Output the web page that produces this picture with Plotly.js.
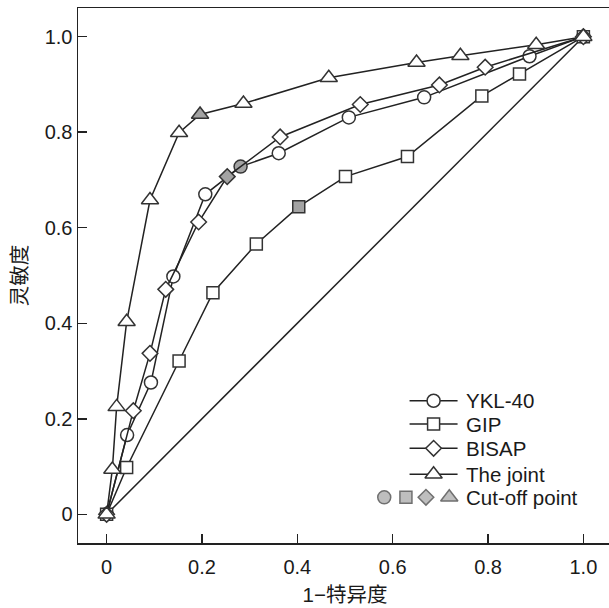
<!DOCTYPE html>
<html>
<head>
<meta charset="utf-8">
<script src="https://cdn.plot.ly/plotly-3.0.1.min.js"></script>
<style>
html, body { margin: 0; padding: 0; overflow: hidden; background: #fff; }
#chart { width: 613px; height: 608px; }
</style>
</head>
<body>
<div id="chart"></div>
<script>
// ---- data ----
var yklX = [0, 0.043, 0.093, 0.140, 0.207, 0.281, 0.361, 0.508, 0.666, 0.887, 1];
var yklY = [0, 0.166, 0.276, 0.498, 0.670, 0.728, 0.756, 0.831, 0.873, 0.959, 1];
var yklCut = 5;

var gipX = [0, 0.042, 0.152, 0.223, 0.314, 0.403, 0.501, 0.631, 0.787, 0.866, 1];
var gipY = [0, 0.098, 0.321, 0.464, 0.566, 0.644, 0.707, 0.749, 0.876, 0.922, 1];
var gipCut = 5;

var bisapX = [0, 0.056, 0.091, 0.124, 0.193, 0.253, 0.364, 0.532, 0.698, 0.794, 1];
var bisapY = [0, 0.217, 0.337, 0.471, 0.612, 0.707, 0.790, 0.858, 0.899, 0.936, 1];
var bisapCut = 5;

var jointX = [0, 0.012, 0.021, 0.042, 0.091, 0.152, 0.196, 0.287, 0.466, 0.650, 0.742, 0.901, 1];
var jointY = [0, 0.094, 0.225, 0.403, 0.658, 0.799, 0.837, 0.860, 0.914, 0.946, 0.960, 0.983, 1];
var jointCut = 6;

var refX = [0, 1];
var refY = [0, 1];

var seriesNames = ["YKL-40", "GIP", "BISAP", "The joint"];
var cutName = "Cut-off point";
var tickVals = [0, 0.2, 0.4, 0.6, 0.8, 1.0];
var tickText = ["0", "0.2", "0.4", "0.6", "0.8", "1.0"];
var xTitle = "1\u2212特异度";
var yTitle = "灵敏度";

// ---- style ----
var FONT = "Liberation Sans, Arial, Noto Sans CJK SC, sans-serif";
var INK = "#222222";
var TXT = "#1a1a1a";
var MK_LINE = "#333333";
var WHITE = "#ffffff";
var GREY = "#a3a3a3";
var symbols = ["circle", "square", "diamond", "triangle-up"];
var sizes = [13, 12, 12, 15];

function fills(n, cut) {
  var c = [];
  for (var i = 0; i < n; i++) c.push(i === cut ? GREY : WHITE);
  return c;
}

var sets = [
  [yklX, yklY, yklCut],
  [gipX, gipY, gipCut],
  [bisapX, bisapY, bisapCut],
  [jointX, jointY, jointCut]
];

var traces = [{
  x: refX, y: refY, mode: "lines", type: "scatter",
  line: {color: INK, width: 1.5}, showlegend: false, hoverinfo: "skip"
}];

sets.forEach(function (s, i) {
  traces.push({
    x: s[0], y: s[1], type: "scatter", mode: "lines+markers", name: seriesNames[i],
    line: {color: INK, width: 1.5},
    marker: {symbol: symbols[i], size: sizes[i], color: fills(s[0].length, s[2]),
             line: {color: MK_LINE, width: 1.5}},
    showlegend: false
  });
});

// ---- manual legend (in data units of the main axes) ----
var legRows = [0.2378, 0.1890, 0.1382, 0.0840];
var legLineX = [0.6354, 0.7361];
var legMarkX = 0.6858;
var legTextX = 0.7505;
var cutRowY = 0.0356;
var cutMarkX = [0.5823, 0.6278, 0.6698, 0.7187];

var annotations = [];
legRows.forEach(function (ry, i) {
  traces.push({
    x: legLineX, y: [ry, ry], type: "scatter", mode: "lines",
    line: {color: INK, width: 1.5}, showlegend: false, hoverinfo: "skip"
  });
  traces.push({
    x: [legMarkX], y: [ry], type: "scatter", mode: "markers",
    marker: {symbol: symbols[i], size: sizes[i], color: WHITE, line: {color: MK_LINE, width: 1.5}},
    showlegend: false, hoverinfo: "skip"
  });
  annotations.push({
    x: legTextX, y: ry, xref: "x", yref: "y", text: seriesNames[i], showarrow: false,
    xanchor: "left", yanchor: "middle", font: {family: FONT, size: 20.5, color: TXT}
  });
});
traces.push({
  x: cutMarkX, y: cutMarkX.map(function () { return cutRowY; }), type: "scatter", mode: "markers",
  marker: {symbol: symbols, size: sizes, color: GREY, line: {color: MK_LINE, width: 1.5}},
  showlegend: false, hoverinfo: "skip"
});
annotations.push({
  x: legTextX, y: cutRowY, xref: "x", yref: "y", text: cutName, showarrow: false,
  xanchor: "left", yanchor: "middle", font: {family: FONT, size: 20.5, color: TXT}
});

var axisCommon = {
  range: [-0.06, 1.06], tickvals: tickVals, ticktext: tickText,
  ticks: "inside", ticklen: 9, tickwidth: 1.5, tickcolor: INK,
  showline: true, linecolor: INK, linewidth: 1.5, mirror: true,
  showgrid: false, zeroline: false,
  tickfont: {family: FONT, size: 20, color: TXT}
};

var layout = {
  width: 613, height: 608,
  margin: {l: 78, r: 1, t: 8, b: 65},
  paper_bgcolor: "#fff", plot_bgcolor: "#fff",
  showlegend: false,
  xaxis: Object.assign({}, axisCommon, {
    ticklabelstandoff: 5,
    title: {text: xTitle, font: {family: FONT, size: 20.5, color: TXT}, standoff: 11}
  }),
  yaxis: Object.assign({}, axisCommon, {
    ticklabelstandoff: 0,
    title: {text: yTitle, font: {family: FONT, size: 20.5, color: TXT}, standoff: 11}
  }),
  annotations: annotations
};

Plotly.newPlot("chart", traces, layout, {staticPlot: true, displayModeBar: false});
</script>
</body>
</html>
